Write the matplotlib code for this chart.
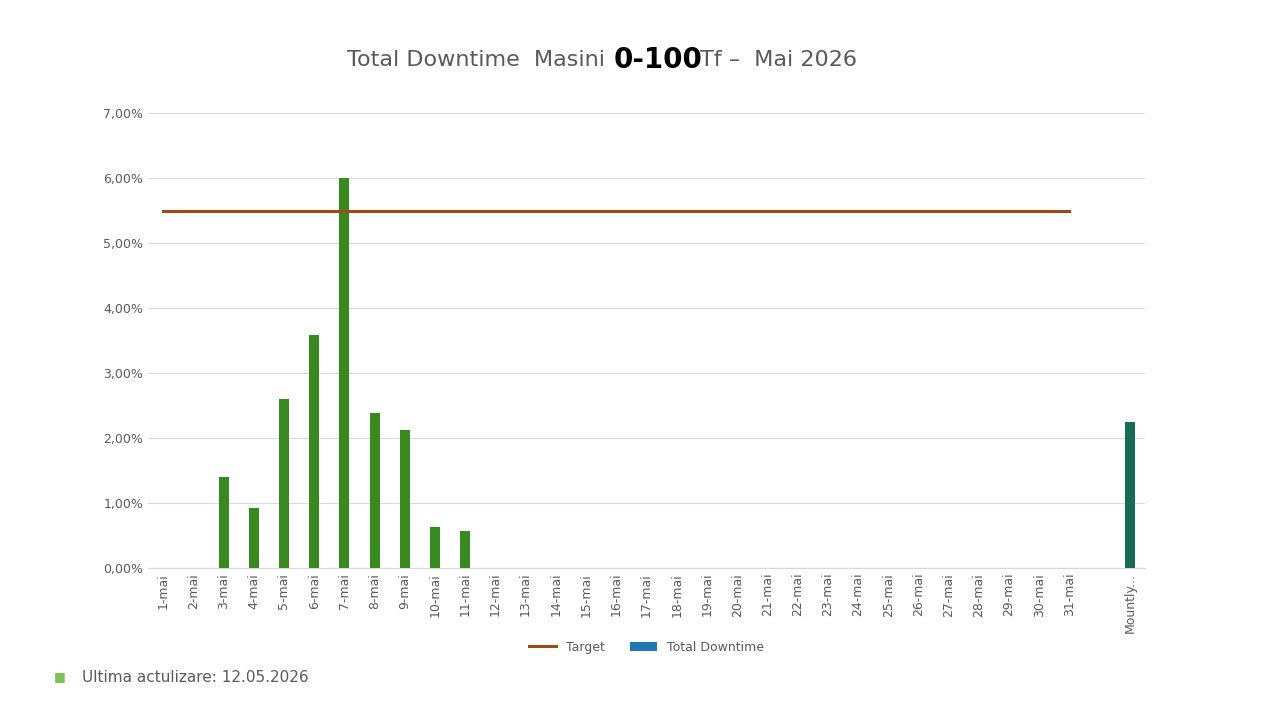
import matplotlib
matplotlib.use("Agg")
import matplotlib.pyplot as plt
from matplotlib.ticker import FuncFormatter

days = [f"{i}-mai" for i in range(1, 32)]
categories = days + ["", "Mountly..."]
downtime = [0, 0, 1.40, 0.92, 2.60, 3.58, 6.00, 2.38, 2.13, 0.63, 0.57] + [0]*20 + [None, 2.25]
target = [5.5]*31
yticks = [0, 1, 2, 3, 4, 5, 6, 7]

fig = plt.figure(figsize=(12.8, 7.2), dpi=100)
ax = fig.add_axes([148/1280, 1-568/720, 997/1280, 455/720])
x = list(range(len(categories)))
for i, v in enumerate(downtime):
    if v:
        c = "#1a6b55" if categories[i].startswith("Mountly") else "#38891f"
        ax.bar(i, v, width=0.33, color=c, zorder=3)
ax.bar([], [], color="#38891f", label="Total Downtime")
ax.plot(range(31), target, color="#9c4a1a", lw=2.2, label="Target", zorder=4)
ax.set_xlim(-0.5, len(categories)-0.5)
ax.set_ylim(0, 7)
ax.set_yticks(yticks)
ax.yaxis.set_major_formatter(FuncFormatter(lambda v, p: f"{v:.2f}%".replace(".", ",")))
ax.set_xticks(x)
ax.set_xticklabels(categories, rotation=90, fontsize=9, color="#595959")
ax.tick_params(axis="y", labelsize=9, colors="#595959", length=0)
ax.tick_params(axis="x", length=0)
ax.grid(axis="y", color="#d9d9d9", lw=0.8, zorder=0)
for s in ["top", "right", "left"]:
    ax.spines[s].set_visible(False)
ax.spines["bottom"].set_color("#d9d9d9")
ax.legend(loc="upper center", bbox_to_anchor=(0.5, -0.135), ncol=2, frameon=False,
          fontsize=9, labelcolor="#595959", handlelength=2.2)

fig.text(612/1280, 1-60/720, "Total Downtime  Masini ", ha="right", va="center", fontsize=16, color="#595959")
fig.text(614/1280, 1-60/720, "0-100", ha="left", va="center", fontsize=20, fontweight="bold", color="black")
fig.text(700/1280, 1-60/720, "Tf –  Mai 2026", ha="left", va="center", fontsize=16, color="#595959")
fig.text(54/1280, 1-677/720, "■", fontsize=9, color="#7ac35a", va="center")
fig.text(82/1280, 1-677/720, "Ultima actulizare: 12.05.2026", fontsize=11, color="#595959", va="center")
fig.savefig("out.png", dpi=100)
